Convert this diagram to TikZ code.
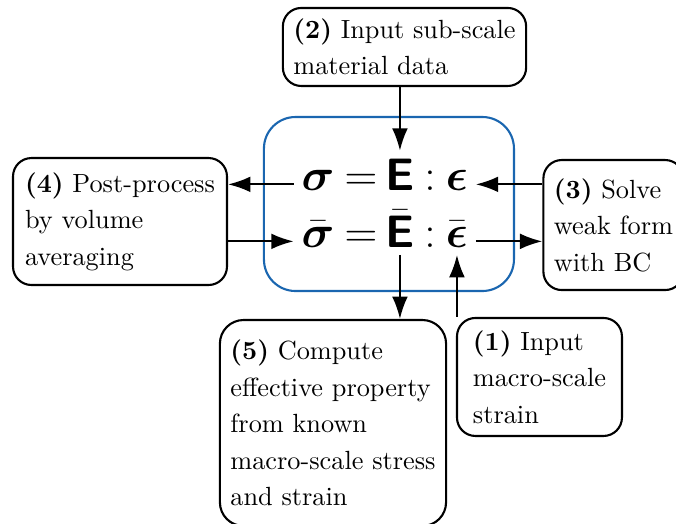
\documentclass[tikz,border=0pt]{standalone}
\usepackage{amsmath,amssymb}
\usepackage{xcolor}
\usepackage{tikz}
\usetikzlibrary{calc,arrows.meta,positioning}
\definecolor{cellBlue}{HTML}{1A66B0}

\tikzset{
  stepbox/.style={draw, thick, rounded corners=7pt, align=left, inner sep=4pt,
                  font=\fontsize{10}{13.9}\selectfont},
  eqsym/.style={anchor=base, inner sep=0pt, outer sep=3pt, font=\LARGE},
  flow/.style={thick, -{Latex[length=8.5pt,width=6pt]}}
}
\newcommand{\bE}{\text{\sffamily\bfseries E}}

\begin{document}
\begin{tikzpicture}
    \useasboundingbox (0,0) rectangle (9.036,7.004);
    % unit cell
    \node[draw=cellBlue, thick, rounded corners=12pt, minimum width=3.342cm, minimum height=2.326cm] (cell) at (5.199,4.277) {};
    % micro relation
    \node[eqsym] (sig) at (4.250,4.464) {$\boldsymbol{\sigma}$};
    \node[eqsym] (eqa) at (4.825,4.464) {$=$};
    \node[eqsym] (E) at (5.346,4.464) {$\bE$};
    \node[eqsym] (cola) at (5.747,4.464) {$:$};
    \node[eqsym] (eps) at (6.108,4.464) {$\boldsymbol{\epsilon}$};
    % macro relation
    \node[eqsym] (sigb) at (4.250,3.702) {$\bar{\boldsymbol{\sigma}}$};
    \node[eqsym] (eqb) at (4.825,3.702) {$=$};
    \node[eqsym] (Eb) at (5.346,3.702) {$\bar{\bE}$};
    \node[eqsym] (colb) at (5.747,3.702) {$:$};
    \node[eqsym] (epsb) at (6.108,3.702) {$\bar{\boldsymbol{\epsilon}}$};
    % steps
    \node[stepbox, minimum width=3.141cm, minimum height=1.043cm] (b2) at (5.407,6.376)
        {\textbf{(2)} Input sub-scale\\material data};
    \node[stepbox, minimum width=2.860cm, minimum height=1.697cm] (b4) at (1.604,4.043)
        {\textbf{(4)} Post-process\\by volume\\averaging};
    \node[stepbox, minimum width=1.791cm, minimum height=1.738cm] (b3) at (8.200,3.996)
        {\textbf{(3)} Solve\\weak form\\with BC};
    \node[stepbox, minimum width=2.205cm, minimum height=1.577cm] (b1) at (7.211,1.965)
        {\textbf{(1)} Input\\macro-scale\\strain};
    \node[stepbox, rounded corners=9pt, minimum width=2.967cm, minimum height=2.753cm] (b5) at (4.451,1.350)
        {\textbf{(5)} Compute\\effective property\\from known\\macro-scale stress\\and strain};
    % connectors
    \draw[flow] (b2.south -| E.north) -- (E.north);
    \draw[flow] (sig.mid west) -- (sig.mid west -| b4.east);
    \draw[flow] (b3.west |- eps.mid east) -- (eps.mid east);
    \draw[flow] (b4.east |- sigb.mid west) -- (sigb.mid west);
    \draw[flow] (epsb.mid east) -- (epsb.mid east -| b3.west);
    \draw[flow] (Eb.south) -- (Eb.south |- b5.north);
    \draw[flow] (b1.north -| epsb.south) -- (epsb.south);
\end{tikzpicture}
\end{document}
